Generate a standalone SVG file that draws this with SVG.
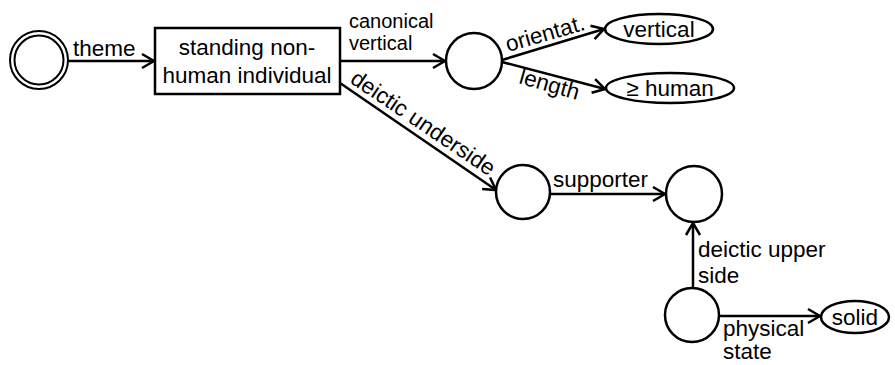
<svg xmlns="http://www.w3.org/2000/svg" width="895" height="365" viewBox="0 0 895 365">
  <style>
    .node { fill: #fff; stroke: #000; stroke-width: 2.5; }
    .edge { fill: none; stroke: #000; stroke-width: 2.5; marker-end: url(#arrow); }
    text { font-family: "Liberation Sans", Arial, sans-serif; font-size: 22.5px; fill: #000; }
    .small { font-size: 20px; }
    .mid { text-anchor: middle; }
  </style>
  <defs>
    <marker id="arrow" markerUnits="userSpaceOnUse" markerWidth="20" markerHeight="20" refX="0" refY="0" viewBox="-14 -10 16 20" orient="auto" overflow="visible">
      <path d="M-12,-7 L0,0 L-12,7" fill="none" stroke="#000" stroke-width="2.5"/>
    </marker>
  </defs>

  <g id="connectors">
    <line class="edge" x1="68" y1="61" x2="154" y2="61"/>
    <text x="73" y="56">theme</text>

    <line class="edge" x1="340" y1="61" x2="445" y2="61"/>
    <text class="small" x="349" y="28">canonical</text>
    <text class="small" x="349" y="50">vertical</text>

    <line class="edge" x1="502" y1="60" x2="604" y2="29"/>
    <text transform="translate(508,52) rotate(-16)">orientat.</text>

    <line class="edge" x1="502" y1="62" x2="605" y2="89"/>
    <text transform="translate(518,83) rotate(16)">length</text>

    <line class="edge" x1="340" y1="83" x2="496" y2="190"/>
    <text transform="translate(349,82) rotate(34)">deictic underside</text>

    <line class="edge" x1="550" y1="194" x2="665" y2="194"/>
    <text x="553" y="187">supporter</text>

    <line class="edge" x1="693" y1="288" x2="693" y2="223"/>
    <text x="698" y="257">deictic upper</text>
    <text x="698" y="283">side</text>

    <line class="edge" x1="719" y1="316" x2="820" y2="316"/>
    <text x="723" y="336">physical</text>
    <text x="723" y="359">state</text>
  </g>

  <g id="start">
    <circle cx="39" cy="60" r="29" fill="#fff" stroke="#000" stroke-width="2"/>
    <circle cx="39" cy="60" r="24.5" fill="none" stroke="#000" stroke-width="2"/>
  </g>

  <g id="standing">
    <rect class="node" x="155" y="28" width="185" height="66"/>
    <text class="mid" x="247" y="55">standing non-</text>
    <text class="mid" x="247" y="83">human individual</text>
  </g>

  <g id="state-a">
    <circle class="node" cx="474" cy="61" r="28"/>
  </g>

  <g id="vertical">
    <ellipse class="node" cx="659" cy="29" rx="54" ry="15"/>
    <text class="mid" x="659" y="37">vertical</text>
  </g>

  <g id="human">
    <ellipse class="node" cx="670" cy="88" rx="64" ry="15"/>
    <text class="mid" x="670" y="96">≥ human</text>
  </g>

  <g id="state-b">
    <circle class="node" cx="523" cy="192" r="27"/>
  </g>

  <g id="state-c">
    <circle class="node" cx="694" cy="194" r="28"/>
  </g>

  <g id="state-d">
    <circle class="node" cx="692" cy="315" r="27"/>
  </g>

  <g id="solid">
    <ellipse class="node" cx="855" cy="317" rx="34" ry="16"/>
    <text class="mid" x="855" y="325">solid</text>
  </g>
</svg>
